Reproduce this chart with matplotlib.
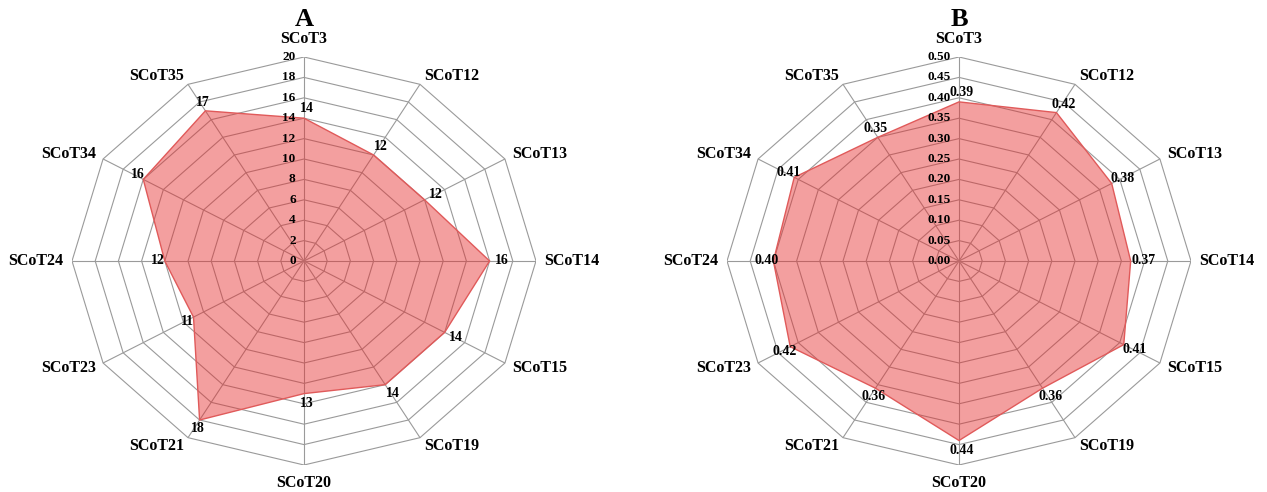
import numpy as np
import matplotlib
matplotlib.use('Agg')
import matplotlib.pyplot as plt
from matplotlib.patches import Polygon

plt.rcParams['font.family'] = ['Liberation Serif', 'DejaVu Serif']
plt.rcParams['font.weight'] = 'bold'

# spokes, clockwise from the top
categories = ['SCoT3', 'SCoT12', 'SCoT13', 'SCoT14', 'SCoT15', 'SCoT19',
              'SCoT20', 'SCoT21', 'SCoT23', 'SCoT24', 'SCoT34', 'SCoT35']

# panel A
values_a = [14, 12, 12, 16, 14, 14, 13, 18, 11, 12, 16, 17]
ticks_a = [0, 2, 4, 6, 8, 10, 12, 14, 16, 18, 20]

# panel B
values_b = [0.39, 0.42, 0.38, 0.37, 0.41, 0.36, 0.44, 0.36, 0.42, 0.40, 0.41, 0.35]
ticks_b = [0.00, 0.05, 0.10, 0.15, 0.20, 0.25, 0.30, 0.35, 0.40, 0.45, 0.50]

GRID = '#9a9a9a'
FILL = (0.90, 0.17, 0.17, 0.45)
EDGE = '#e05a5a'


def radar(ax, values, ticks, fmt):
    n = len(categories)
    theta = np.arange(n) * 2 * np.pi / n
    sx, cy = np.sin(theta), np.cos(theta)
    rmax = ticks[-1]

    # web: rings and spokes
    for t in ticks[1:]:
        rr = t / rmax
        ring = Polygon(np.column_stack([rr * sx, rr * cy]), closed=True,
                       fill=False, edgecolor=GRID, lw=0.8, zorder=1)
        ax.add_patch(ring)
    for i in range(n):
        ax.plot([0, sx[i]], [0, cy[i]], color=GRID, lw=0.8, zorder=1,
                solid_capstyle='butt')

    # data polygon
    r = np.array(values) / rmax
    shape = Polygon(np.column_stack([r * sx, r * cy]), closed=True,
                    facecolor=FILL, edgecolor=EDGE, lw=1.0, zorder=2)
    ax.add_patch(shape)

    # scale labels along the top spoke
    for t in ticks:
        ax.annotate(fmt.format(t), (0, t / rmax), xytext=(-6, 0),
                    textcoords='offset points', ha='right', va='center',
                    fontsize=9.5, fontweight='bold', zorder=4)

    # value labels next to each vertex
    for i, v in enumerate(values):
        ax.annotate(fmt.format(v), (r[i] * sx[i], r[i] * cy[i]),
                    xytext=(7 * sx[i] + 2, 7 * cy[i]),
                    textcoords='offset points', ha='center', va='center',
                    fontsize=10, fontweight='bold', zorder=5)

    # category labels outside the outer ring
    for i, name in enumerate(categories):
        if abs(sx[i]) < 0.01:
            ha = 'center'
            va = 'bottom' if cy[i] > 0 else 'top'
        else:
            ha = 'left' if sx[i] > 0 else 'right'
            va = 'center'
        ax.annotate(name, (sx[i], cy[i]), xytext=(6 * sx[i], 7 * cy[i]),
                    textcoords='offset points', ha=ha, va=va,
                    fontsize=11.5, fontweight='bold')

    ax.set_xlim(-1, 1)
    ax.set_ylim(-1, 1)
    ax.axis('off')


W, H = 1267, 492
fig = plt.figure(figsize=(W / 100, H / 100), dpi=100)

ax_a = fig.add_axes([72 / W, 27 / H, 464 / W, 408 / H])
ax_b = fig.add_axes([727 / W, 27 / H, 464 / W, 408 / H])

radar(ax_a, values_a, ticks_a, '{:d}')
radar(ax_b, values_b, ticks_b, '{:.2f}')

fig.text(304 / W, 1 - 20 / H, 'A', ha='center', va='center',
         fontsize=19, fontweight='bold')
fig.text(959 / W, 1 - 20 / H, 'B', ha='center', va='center',
         fontsize=19, fontweight='bold')

plt.savefig('out.png', dpi=100)
